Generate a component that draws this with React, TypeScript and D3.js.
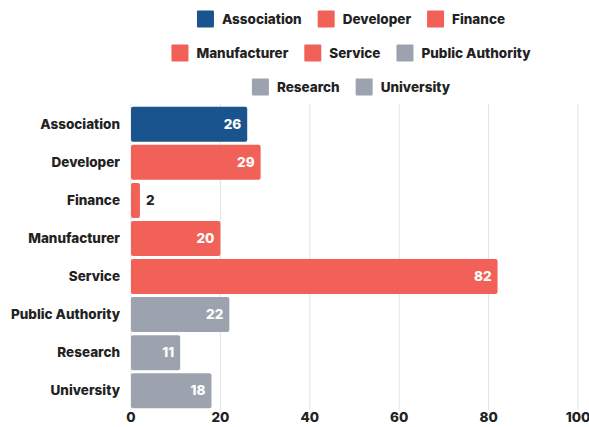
import React from "react";
import * as d3 from "d3";

const categories = ["Association", "Developer", "Finance", "Manufacturer", "Service", "Public Authority", "Research", "University"];
const values = [26, 29, 2, 20, 82, 22, 11, 18];
const colors = ["#19548f", "#f16158", "#f16158", "#f16158", "#f16158", "#9ca3ae", "#9ca3ae", "#9ca3ae"];
const xTicks = [0, 20, 40, 60, 80, 100];
const legendRows = [[0, 1, 2], [3, 4, 5], [6, 7]];

const W = 589, H = 427;
const FONT = "Inter, 'Noto Sans', sans-serif";
const FS = 13.5;

function measure(text: string, size: number) {
  const c = document.createElement("canvas").getContext("2d")!;
  c.font = `800 ${size}px Inter`;
  return c.measureText(text).width;
}

export default function App() {
  const x = d3.scaleLinear().domain([0, 100]).range([131, 578]);
  const y = d3.scaleBand<string>().domain(categories).range([106, 409]).paddingInner(0.08).paddingOuter(0.02);
  const legendCenter = 351;
  const sq = 17, gap = 8, itemGap = 16;
  const legendY = [19, 53, 87];
  return (
    <svg width={W} height={H} style={{ position: "absolute", left: 0, top: 0, fontFamily: FONT }}>
      <rect width={W} height={H} fill="#fff" />
      {xTicks.map((t) => (
        <line key={t} x1={x(t)} x2={x(t)} y1={104} y2={410} stroke="#e4e4e4" strokeWidth={1} />
      ))}
      {categories.map((c, i) => {
        const y0 = y(c)!;
        const bw = x(values[i]) - x(0);
        const inside = bw > 25;
        return (
          <g key={c}>
            <rect x={x(0)} y={y0} width={bw} height={y.bandwidth()} rx={2} fill={colors[i]} />
            <text x={120} y={y0 + y.bandwidth() / 2} dy="0.35em" textAnchor="end" fontSize={FS} fontWeight={800} fill="#222">{c}</text>
            <text x={inside ? x(values[i]) - 6 : x(values[i]) + 6} y={y0 + y.bandwidth() / 2} dy="0.35em" textAnchor={inside ? "end" : "start"} fontSize={FS} fontWeight={800} fill={inside ? "#fff" : "#222"}>{values[i]}</text>
          </g>
        );
      })}
      {xTicks.map((t) => (
        <text key={t} x={x(t)} y={417} dy="0.35em" textAnchor="middle" fontSize={FS} fontWeight={800} fill="#222">{t}</text>
      ))}
      {legendRows.map((row, r) => {
        const widths = row.map((i) => sq + gap + measure(categories[i], FS));
        const total = d3.sum(widths) + itemGap * (row.length - 1);
        let cx = legendCenter - total / 2;
        return (
          <g key={r}>
            {row.map((i, k) => {
              const x0 = cx;
              cx += widths[k] + itemGap;
              return (
                <g key={i}>
                  <rect x={x0} y={legendY[r] - sq / 2} width={sq} height={sq} rx={1} fill={colors[i]} />
                  <text x={x0 + sq + gap} y={legendY[r]} dy="0.35em" fontSize={FS} fontWeight={800} fill="#222">{categories[i]}</text>
                </g>
              );
            })}
          </g>
        );
      })}
    </svg>
  );
}
